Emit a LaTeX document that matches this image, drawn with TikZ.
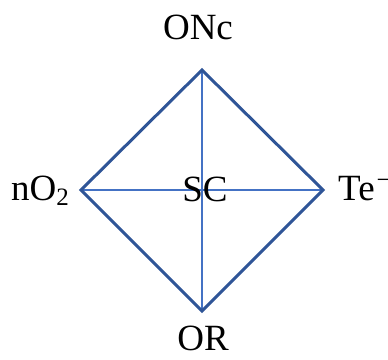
\documentclass[tikz,border=0pt]{standalone}
\usepackage{fontspec}
\setmainfont{Liberation Serif}
\definecolor{outerblue}{RGB}{47,85,151}
\definecolor{innerblue}{RGB}{68,114,196}
\tikzset{
  lbl/.style={inner sep=0pt, font=\fontsize{37}{42}\selectfont, text=black},
  outerline/.style={draw=outerblue, line width=3pt, line join=miter},
  innerline/.style={draw=innerblue, line width=1.4pt}
}
\begin{document}
\begin{tikzpicture}[x=1pt,y=-1pt]
\useasboundingbox (0,0) rectangle (388,359);
\begin{scope}
\clip (0,0) rectangle (388,359);
\coordinate (T) at (202,70);
\coordinate (B) at (202,311);
\coordinate (L) at (81,190);
\coordinate (R) at (323,190);
\draw[innerline] (T) -- (B);
\draw[innerline] (L) -- (R);
\draw[outerline] (T) -- (R) -- (B) -- (L) -- cycle;
\node[lbl, anchor=base] (onc) at (198,39) {ONc};
\node[lbl, anchor=base] (or) at (203,350) {OR};
\node[lbl, anchor=base] (sc) at (205,201) {SC};
\node[lbl, anchor=base west] (no2) at (11,200) {nO\raisebox{-5pt}{\fontsize{25}{28}\selectfont 2}};
\node[lbl, anchor=base west] (te) at (338,200) {Te\hspace{2pt}\raisebox{12pt}{\fontsize{26}{28}\selectfont −}};
\end{scope}
\end{tikzpicture}
\end{document}
